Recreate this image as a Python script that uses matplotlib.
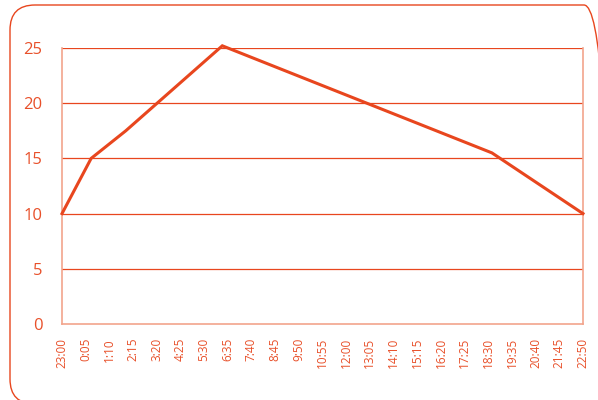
import matplotlib
matplotlib.use("Agg")
import matplotlib.pyplot as plt
from matplotlib.patches import FancyBboxPatch

# tick labels every 65 minutes starting 23:00
tick_labels = ["23:00", "0:05", "1:10", "2:15", "3:20", "4:25", "5:30", "6:35",
               "7:40", "8:45", "9:50", "10:55", "12:00", "13:05", "14:10", "15:15",
               "16:20", "17:25", "18:30", "19:35", "20:40", "21:45", "22:50"]
tick_minutes = [i * 65 for i in range(len(tick_labels))]

# series: minutes since 23:00, value
point_minutes = [0, 80, 175, 440, 1180, 1430]
point_values = [10, 15, 17.5, 25.2, 15.5, 10]

y_ticks = [0, 5, 10, 15, 20, 25]

line_color = "#E8461E"
text_color = "#E8502A"
frame_color = "#F2A48C"

plt.rcParams['font.family'] = ['Open Sans', 'DejaVu Sans']

fig = plt.figure(figsize=(5.98, 4.0), dpi=100)

# rounded outer frame (in inches), runs off the right and bottom edges
box = FancyBboxPatch((0.10, -0.04), 5.99, 3.99,
                     boxstyle="round,pad=0,rounding_size=0.25",
                     transform=fig.dpi_scale_trans, fill=False,
                     edgecolor=line_color, linewidth=1.0)
fig.patches.append(box)

ax = fig.add_axes([62 / 598, 1 - 324 / 400, 521 / 598, 276 / 400])
ax.set_xlim(0, tick_minutes[-1])
ax.set_ylim(0, 25)

for v in y_ticks[1:]:
    ax.axhline(v, color=line_color, linewidth=0.9, zorder=1)

ax.plot(point_minutes, point_values, color=line_color, linewidth=2.2,
        clip_on=False, zorder=3, solid_joinstyle="miter")

for side in ["left", "bottom", "right"]:
    ax.spines[side].set_color(frame_color)
    ax.spines[side].set_linewidth(1.2)
ax.spines["top"].set_visible(False)

ax.set_yticks(y_ticks)
ax.set_yticklabels([str(v) for v in y_ticks])
ax.set_xticks(tick_minutes)
ax.set_xticklabels(tick_labels, rotation=90)
ax.tick_params(axis="y", length=0, pad=14, labelsize=12, labelcolor=text_color)
ax.tick_params(axis="x", length=0, pad=10, labelsize=8.5, labelcolor=text_color)

fig.savefig("out.png", dpi=100)
